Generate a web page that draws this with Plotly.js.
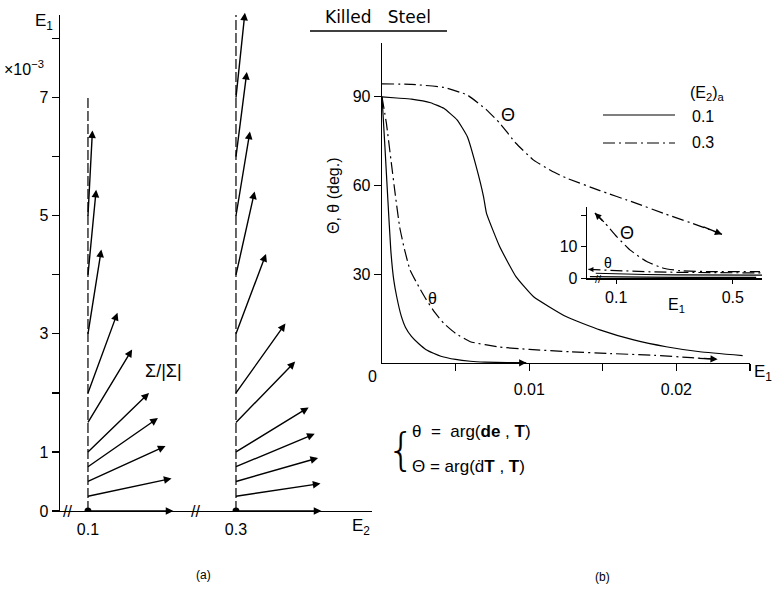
<!DOCTYPE html>
<html><head><meta charset="utf-8">
<script src="https://cdn.plot.ly/plotly-3.0.1.min.js"></script>
<style>html,body{margin:0;padding:0;background:#fff}#chart{width:772px;height:589px}</style>
</head><body><div id="chart"></div>
<script>
// ---------- Panel (a): direction of Σ/|Σ| along E1 at (E2)a ----------
const e2Cats = ['0.1', '0.3'];
const dashTop = [7, 8.4];                       // extent of dashed path lines (E1 ×10^-3)
const startE1_01 = [0, 0.25, 0.5, 0.75, 1, 1.5, 2, 3, 4, 5];
const angle_01   = [0, 12, 24.6, 34.8, 44, 58.8, 69.8, 81, 84.5, 87];   // deg from E2 axis
const startE1_03 = [0, 0.25, 0.5, 0.75, 1, 1.5, 2, 3, 4, 5, 6, 7];
const angle_03   = [0, 8.5, 16, 22.7, 31.5, 45.8, 54.5, 69.4, 77.4, 80.6, 82.7, 84];
const yTickVals_a = [0, 1, 2, 3, 4, 5, 6, 7, 8];
const yTickText_a = ['0', '1', '', '3', '', '5', '', '7', ''];

// ---------- Panel (b): angles vs E1 ----------
const E1_T01 = [0, 0.001, 0.002, 0.0033, 0.0042, 0.0051, 0.0058, 0.0064, 0.0069, 0.0071, 0.008, 0.0091, 0.0103, 0.0125, 0.0148, 0.0171, 0.0193, 0.0216, 0.0245];
const T01    = [90, 89.6, 89.2, 88, 86.1, 82.2, 76.5, 66.4, 56.2, 50.6, 39.3, 29.2, 22.4, 15.7, 11.2, 7.8, 5.5, 3.8, 2.5];
const E1_T03 = [0, 0.002, 0.0042, 0.0058, 0.0071, 0.008, 0.0091, 0.0103, 0.0115, 0.0125, 0.0148, 0.0171, 0.0193, 0.0216, 0.0231];
const T03    = [94.4, 94.2, 93.2, 90.6, 85.6, 81.1, 74.3, 68.6, 65, 62.6, 58.3, 54.3, 50.3, 46.3, 43.5];
const E1_t01 = [0, 0.0002, 0.0004, 0.0006, 0.0008, 0.001, 0.0013, 0.0016, 0.002, 0.0025, 0.003, 0.0035, 0.004, 0.005, 0.006, 0.007, 0.0085, 0.0098];
const t01    = [90, 73, 55, 38, 28, 22.4, 16, 12, 9, 6.5, 4.5, 3.3, 2.3, 1.2, 0.6, 0.3, 0.15, 0.05];
const E1_t03 = [0, 0.0003, 0.0006, 0.0009, 0.0012, 0.0015, 0.0019, 0.0025, 0.003, 0.0036, 0.0042, 0.005, 0.006, 0.008, 0.010, 0.0128, 0.0155, 0.0185, 0.021, 0.0228];
const t03    = [90, 81, 69, 57, 46, 39, 31.5, 25.8, 21.5, 17, 13.4, 10, 7.2, 5.4, 4.6, 3.8, 3.2, 2.6, 1.8, 1.25];
const xTickVals_b = [0.005, 0.01, 0.015, 0.02, 0.025];
const xTickText_b = ['', '0.01', '', '0.02', ''];

// ---------- Inset: large strains ----------
const iE1_T03 = [0.027, 0.062, 0.102, 0.147, 0.205, 0.262, 0.319, 0.433, 0.593];
const iT03    = [20.7, 17.5, 13.2, 9.0, 5.3, 3.2, 2.4, 2.1, 2.1];
const iE1_t03 = [0.005, 0.05, 0.1, 0.2, 0.3, 0.4, 0.5, 0.6];
const it03    = [2.8, 2.6, 2.4, 2.1, 1.9, 1.8, 1.7, 1.7];
const iE1_T01 = [0.03, 0.1, 0.2, 0.3, 0.4, 0.5, 0.6];
const iT01    = [1.6, 1.4, 1.2, 1.1, 1.0, 1.0, 1.0];
const iE1_t01 = [0.01, 0.1, 0.2, 0.3, 0.4, 0.5, 0.58];
const it01    = [0.5, 0.4, 0.3, 0.3, 0.3, 0.3, 0.3];

// ---------- styles ----------
const W = 772, H = 589;
const FONT = 'Liberation Sans, Arial, sans-serif';
const DASHDOT = '12px,4px,2px,4px';
const ARROW_LEN = 87;
const px = v => v / W, py = v => 1 - v / H;
const last = a => a[a.length - 1];

const solid = {color: '#000', width: 1.2};
const dd = {color: '#000', width: 1.2, dash: DASHDOT};
const smooth = l => Object.assign({shape: 'spline', smoothing: 0.4}, l);

const traces = [
  // panel (a) dashed paths and start points
  {x: [e2Cats[0], e2Cats[0]], y: [0, dashTop[0]], xaxis: 'x', yaxis: 'y', mode: 'lines', line: {color: '#000', width: 1.2, dash: '10px,3px'}},
  {x: [e2Cats[1], e2Cats[1]], y: [0, dashTop[1]], xaxis: 'x', yaxis: 'y', mode: 'lines', line: {color: '#000', width: 1.2, dash: '10px,3px'}},
  {x: e2Cats, y: [0, 0], xaxis: 'x', yaxis: 'y', mode: 'markers', marker: {color: '#000', size: 7}},
  // panel (b)
  {x: E1_T01, y: T01, xaxis: 'x2', yaxis: 'y2', mode: 'lines', line: smooth(solid)},
  {x: E1_T03, y: T03, xaxis: 'x2', yaxis: 'y2', mode: 'lines', line: smooth(dd)},
  {x: E1_t01, y: t01, xaxis: 'x2', yaxis: 'y2', mode: 'lines', line: smooth(solid)},
  {x: E1_t03, y: t03, xaxis: 'x2', yaxis: 'y2', mode: 'lines', line: smooth(dd)},
  // inset
  {x: iE1_T03, y: iT03, xaxis: 'x3', yaxis: 'y3', mode: 'lines', line: smooth(dd)},
  {x: iE1_t03, y: it03, xaxis: 'x3', yaxis: 'y3', mode: 'lines', line: dd},
  {x: iE1_T01, y: iT01, xaxis: 'x3', yaxis: 'y3', mode: 'lines', line: solid},
  {x: iE1_t01, y: it01, xaxis: 'x3', yaxis: 'y3', mode: 'lines', line: solid}
];

function sigmaArrows(cat, starts, angles) {
  const xi = e2Cats.indexOf(cat);
  return starts.map((e1, i) => {
    const a = angles[i] * Math.PI / 180;
    return {xref: 'x', yref: 'y', x: xi, y: e1,
      ax: ARROW_LEN * Math.cos(a), ay: -ARROW_LEN * Math.sin(a),
      text: '', showarrow: true, arrowside: 'start', startarrowhead: 2, startarrowsize: 1.1,
      arrowwidth: 1.4, arrowcolor: '#000', standoff: 0, startstandoff: 0};
  });
}
function endArrow(xr, yr, xs, ys, ax, ay) {
  return {xref: xr, yref: yr, x: last(xs), y: last(ys), ax: ax, ay: ay, text: '', showarrow: true,
    arrowhead: 2, arrowsize: 1.1, arrowwidth: 1.3, arrowcolor: '#000', standoff: 0};
}
function txt(t, x, y, size, opts) {
  return Object.assign({xref: 'paper', yref: 'paper', x: px(x), y: py(y), text: t, showarrow: false,
    font: {family: FONT, size: size, color: '#000'}, xanchor: 'center', yanchor: 'middle'}, opts || {});
}

const annotations = [].concat(
  sigmaArrows('0.1', startE1_01, angle_01),
  sigmaArrows('0.3', startE1_03, angle_03),
  [
    endArrow('x2', 'y2', E1_T03, T03, -20, -8),
    endArrow('x2', 'y2', E1_t03, t03, -20, -1),
    endArrow('x2', 'y2', E1_t01, t01, -20, 0),
    {xref: 'x3', yref: 'y3', x: iE1_T03[0], y: iT03[0], ax: 9, ay: 9, text: '', showarrow: true,
      arrowhead: 2, arrowsize: 1, arrowwidth: 1.3, arrowcolor: '#000', standoff: 0},
    {xref: 'x3', yref: 'y3', x: iE1_t03[0], y: it03[0], ax: 8, ay: 0, text: '', showarrow: true,
      arrowhead: 2, arrowsize: 0.9, arrowwidth: 1.1, arrowcolor: '#000', standoff: 0},
    // panel (a) texts
    txt('E<sub>1</sub>', 44, 22, 17),
    txt('×10<sup>−3</sup>', 24, 68, 16),
    txt('Σ/|Σ|', 163, 371, 18),
    txt('E<sub>2</sub>', 361, 527, 17),
    txt('//', 67, 511, 16),
    txt('//', 195, 511, 16),
    txt('(a)', 203, 575, 12),
    // panel (b) texts
    txt('Killed   Steel', 378, 17, 17, {font: {family: 'DejaVu Sans, sans-serif', size: 17, color: '#000'}}),
    txt('Θ, θ (deg.)', 333, 196, 16, {textangle: -90}),
    txt('0', 372, 376, 16),
    txt('E<sub>1</sub>', 752, 373, 17, {xanchor: 'left'}),
    txt('Θ', 508, 115, 18),
    txt('θ', 432, 298, 16),
    txt('(E<sub>2</sub>)<sub>a</sub>', 707, 94, 16),
    txt('0.1', 690, 117, 16, {xanchor: 'left'}),
    txt('0.3', 690, 143, 16, {xanchor: 'left'}),
    txt('(b)', 602, 577, 12),
    // inset texts
    txt('Θ', 627, 233, 18),
    txt('θ', 608, 263, 14),
    txt('E<sub>1</sub>', 676, 305, 16),
    txt('//', 598, 279, 11),
    // definitions
    txt('{', 401, 449, 44, {font: {family: 'DejaVu Sans, sans-serif', size: 44, color: '#000', weight: 200}}),
    txt('θ  =  arg(<b>de</b> , <b>T</b>)', 410, 431, 17, {xanchor: 'left'}),
    txt('Θ = arg(ḋ<b>T</b> , <b>T</b>)', 410, 466, 17, {xanchor: 'left'})
  ]
);

const shapes = [
  {type: 'line', xref: 'paper', yref: 'paper', x0: px(310), x1: px(447), y0: py(31), y1: py(31), line: {color: '#000', width: 1.5}},
  {type: 'line', xref: 'paper', yref: 'paper', x0: px(603), x1: px(675), y0: py(115), y1: py(115), line: {color: '#000', width: 1.2}},
  {type: 'line', xref: 'paper', yref: 'paper', x0: px(603), x1: px(675), y0: py(143), y1: py(143), line: {color: '#000', width: 1.2, dash: DASHDOT}}
];

const axBase = {showgrid: false, zeroline: false, showline: true, linecolor: '#000', linewidth: 1.3,
  tickcolor: '#000', tickwidth: 1.2, tickfont: {family: FONT, size: 16, color: '#000'}};

const layout = {
  width: W, height: H, margin: {l: 0, r: 0, t: 0, b: 0},
  paper_bgcolor: '#fff', plot_bgcolor: 'rgba(0,0,0,0)', showlegend: false,
  font: {family: FONT, size: 16, color: '#000'},
  xaxis: Object.assign({}, axBase, {domain: [px(60), px(372)], anchor: 'y', type: 'category',
    categoryarray: e2Cats, categoryorder: 'array', range: [-0.189, 1.919], ticks: '', ticklabelstandoff: 3}),
  yaxis: Object.assign({}, axBase, {domain: [1 - 511 / H, 1 - 15 / H], anchor: 'x', range: [0, 8.4],
    tickvals: yTickVals_a, ticktext: yTickText_a, ticks: 'outside', ticklen: 7}),
  xaxis2: Object.assign({}, axBase, {domain: [px(382), px(750)], anchor: 'y2', range: [0, 0.025],
    tickvals: xTickVals_b, ticktext: xTickText_b, ticks: 'outside', ticklen: 7, ticklabelstandoff: 4}),
  yaxis2: Object.assign({}, axBase, {domain: [1 - 363 / H, 1 - 43 / H], anchor: 'x2', range: [0, 108.2],
    tickvals: [30, 60, 90], ticks: 'outside', ticklen: 7}),
  xaxis3: Object.assign({}, axBase, {domain: [px(587), px(762)], anchor: 'y3', range: [0, 0.6],
    tickvals: [0.1, 0.5], ticktext: ['0.1', '0.5'], ticks: 'outside', ticklen: 4}),
  yaxis3: Object.assign({}, axBase, {domain: [1 - 278.3 / H, 1 - 206.7 / H], anchor: 'x3', range: [0, 22.7],
    tickvals: [0, 10, 20], ticktext: ['0', '10', ''], ticks: 'outside', ticklen: 5}),
  annotations: annotations,
  shapes: shapes
};

Plotly.newPlot('chart', traces, layout, {staticPlot: true, displayModeBar: false});
</script>
</body></html>
